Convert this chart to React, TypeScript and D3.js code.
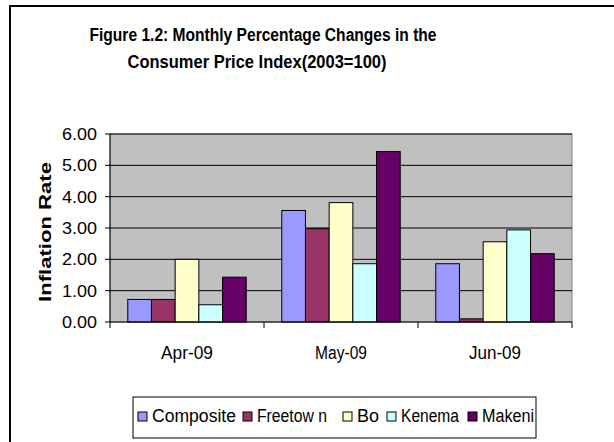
import { scaleBand, scaleLinear, range, format } from "d3"

const months = ["Apr-09", "May-09", "Jun-09"]
const series = ["Composite", "Freetown", "Bo", "Kenema", "Makeni"]
const legendLabels = ["Composite", "Freetow n", "Bo", "Kenema", "Makeni"]
const composite = [0.72, 3.56, 1.86]
const freetown = [0.72, 2.98, 0.1]
const bo = [2.0, 3.81, 2.56]
const kenema = [0.55, 1.86, 2.94]
const makeni = [1.43, 5.44, 2.18]
const yTicks = [0, 1, 2, 3, 4, 5, 6]
const colors = ["#9999FF", "#993366", "#FFFFCC", "#CCFFFF", "#660066"]

const values = [composite, freetown, bo, kenema, makeni]

const W = 614
const H = 442
const plot = { left: 110, right: 572, top: 134, bottom: 322 }
const font = "Arial, 'Liberation Sans', sans-serif"

const App = () => {
  const x = scaleBand().domain(months).range([plot.left, plot.right]).padding(0)
  const xInner = scaleBand().domain(series).range([0, x.bandwidth()]).paddingInner(0).paddingOuter(0.75)
  const y = scaleLinear().domain([0, 6]).range([plot.bottom, plot.top])
  const fmt = format(".2f")

  const bars = series.map((s, si) =>
    months.map((m, mi) => {
      const v = values[si][mi]
      return (
        <rect
          key={s + m}
          x={x(m) + xInner(s)}
          y={y(v)}
          width={xInner.bandwidth()}
          height={y(0) - y(v)}
          fill={colors[si]}
          stroke="#000"
          strokeWidth={1}
        />
      )
    })
  )

  // legend layout, hand-tuned to follow the picture
  const swatchX = [138, 243, 343, 387, 468]
  const textW = [84, 70, 22, 58, 52]

  return (
    <svg width={W} height={H} style={{ position: "absolute", left: 0, top: 0 }} fontFamily={font}>
      <rect x={0} y={0} width={W} height={H} fill="#fff" />
      <rect x={10} y={6} width={W + 20} height={H + 20} fill="none" stroke="#000" strokeWidth={2} />

      <text x={263} y={41} textAnchor="middle" fontSize={18} fontWeight="bold" textLength={347} lengthAdjust="spacingAndGlyphs">
        Figure 1.2: Monthly Percentage Changes in the
      </text>
      <text x={257} y={68} textAnchor="middle" fontSize={18} fontWeight="bold" textLength={259} lengthAdjust="spacingAndGlyphs">
        Consumer Price Index(2003=100)
      </text>

      <rect x={plot.left} y={plot.top} width={plot.right - plot.left} height={plot.bottom - plot.top} fill="#C0C0C0" stroke="#808080" strokeWidth={1} />
      {yTicks.slice(1).map(t => (
        <line key={t} x1={plot.left} x2={plot.right} y1={y(t)} y2={y(t)} stroke="#000" strokeWidth={1} />
      ))}

      {bars}

      <line x1={plot.left} x2={plot.left} y1={plot.top} y2={plot.bottom} stroke="#000" />
      <line x1={plot.left} x2={plot.right} y1={plot.bottom} y2={plot.bottom} stroke="#000" />
      {yTicks.map(t => (
        <g key={t}>
          <line x1={plot.left - 5} x2={plot.left} y1={y(t)} y2={y(t)} stroke="#000" />
          <text x={97} y={y(t) + 6} textAnchor="end" fontSize={17} textLength={35} lengthAdjust="spacingAndGlyphs">{fmt(t)}</text>
        </g>
      ))}
      {range(months.length + 1).map(i => (
        <line key={i} x1={plot.left + i * x.bandwidth()} x2={plot.left + i * x.bandwidth()} y1={plot.bottom} y2={plot.bottom + 6} stroke="#000" />
      ))}
      {months.map(m => (
        <text key={m} x={x(m) + x.bandwidth() / 2} y={359} textAnchor="middle" fontSize={18} textLength={52} lengthAdjust="spacingAndGlyphs">{m}</text>
      ))}

      <text transform={`translate(51, 232) rotate(-90)`} textAnchor="middle" fontSize={17} fontWeight="bold" textLength={140} lengthAdjust="spacingAndGlyphs">
        Inflation Rate
      </text>

      <rect x={133} y={397} width={403} height={41} fill="#fff" stroke="#000" strokeWidth={1} />
      {series.map((s, i) => (
        <g key={s}>
          <rect x={swatchX[i]} y={412} width={9} height={9} fill={colors[i]} stroke="#000" />
          <text x={swatchX[i] + 14} y={422} fontSize={18} textLength={textW[i]} lengthAdjust="spacingAndGlyphs">{legendLabels[i]}</text>
        </g>
      ))}
    </svg>
  )
}

export default App
